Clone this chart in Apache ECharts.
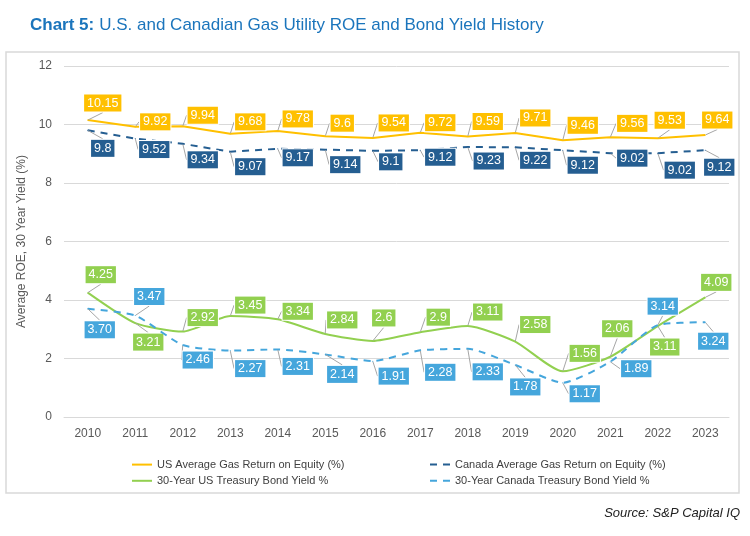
<!DOCTYPE html>
<html><head><meta charset="utf-8">
<script src="https://cdn.jsdelivr.net/npm/echarts@6/dist/echarts.min.js"></script>
<style>html,body{margin:0;padding:0;background:#fff}#c{width:750px;height:536px}</style>
</head><body><div id="c"></div>
<script>
const years = ['2010','2011','2012','2013','2014','2015','2016','2017','2018','2019','2020','2021','2022','2023'];
const usRoe = [10.15,9.92,9.94,9.68,9.78,9.6,9.54,9.72,9.59,9.71,9.46,9.56,9.53,9.64];
const caRoe = [9.8,9.52,9.34,9.07,9.17,9.14,9.1,9.12,9.23,9.22,9.12,9.02,9.02,9.12];
const usBond = [4.25,3.21,2.92,3.45,3.34,2.84,2.6,2.9,3.11,2.58,1.56,2.06,3.11,4.09];
const caBond = [3.70,3.47,2.46,2.27,2.31,2.14,1.91,2.28,2.33,1.78,1.17,1.89,3.14,3.24];
const seriesNames = ['US Average Gas Return on Equity (%)','Canada Average Gas Return on Equity (%)','30-Year US Treasury Bond Yield %','30-Year Canada Treasury Bond Yield %'];
const yTicks = {min:0,max:12,interval:2};

// label offsets (dx, dy) from each point, in pixels
const usRoeOff = [[15,-17],[20,-5],[20,-11],[20,-12],[20,-12],[17,-13],[21,-15],[20,-10],[20,-15],[20,-15],[20,-15],[22,-14],[12,-18],[12,-15]];
const caRoeOff = [[15,18],[19,11],[20,16],[20,15],[20,9],[20,15],[18,11],[20,7],[21,14],[20,13],[20,15],[22,5],[22,17],[14,17]];
const usBondOff = [[13,-18],[13,19],[20,-14],[20,-11],[20,-8],[17,-14],[11,-23],[18,-15],[20,-14],[20,-17],[22,-18],[7,-28],[7,21],[11,-15]];
const caBondOff = [[12,21],[14,-19],[15,15],[20,18],[20,17],[17,20],[21,15],[20,22],[20,23],[10,22],[22,11],[26,7],[5,-19],[8,19]];

const colors = ['#FFC000','#255E91','#92D050','#45A6DC'];
const offs = [usRoeOff, caRoeOff, usBondOff, caBondOff];
const datas = [usRoe, caRoe, usBond, caBond];
const dashes = ['solid',[7,6],'solid',[7,6]];
const fmt = [null,null,null,2];
const FF = 'Liberation Sans, Arial, sans-serif';

const chart = echarts.init(document.getElementById('c'), null, {renderer:'canvas'});
const series = datas.map((d,k)=>({
  name: seriesNames[k],
  type:'line',
  data:d,
  smooth: k>=2 ? 0.2 : false,
  symbol:'circle',
  symbolSize:1,
  showSymbol:true,
  z: 2+k,
  itemStyle:{color:colors[k]},
  lineStyle:{color:colors[k],width:2,type:dashes[k]},
  label:{
    show:true, position:'inside',
    formatter: p => fmt[k] ? p.value.toFixed(fmt[k]) : String(p.value),
    color:'#fff', fontSize:12.5, fontFamily:FF,
    backgroundColor:colors[k], borderColor:'#fff', borderWidth:1,
    padding:[2,3,1,3], lineHeight:14
  },
  labelLine:{show:true, lineStyle:{color:'#A6A6A6', width:1}},
  labelLayout: p => ({dx: offs[k][p.dataIndex][0], dy: offs[k][p.dataIndex][1]}),
  emphasis:{disabled:true}
}));

chart.setOption({
  animation:false,
  backgroundColor:'#fff',
  title:{
    text:'{b|Chart 5:} {n|U.S. and Canadian Gas Utility ROE and Bond Yield History}',
    left:25, top:11,
    textStyle:{rich:{
      b:{fontSize:17,fontWeight:'bold',color:'#1B75BC',fontFamily:FF},
      n:{fontSize:17,fontWeight:'normal',color:'#1B75BC',fontFamily:FF}
    }}
  },
  graphic:[
    {type:'rect', shape:{x:6,y:52,width:733,height:441}, style:{fill:'none',stroke:'#D9D9D9',lineWidth:1.5}, z:-1},
    {type:'text', right:10, top:507, style:{text:'Source: S&P Capital IQ', font:'italic 13px Liberation Sans, Arial, sans-serif', fill:'#222'}}
  ],
  grid:{left:64,right:21,top:66,bottom:119},
  legend:[
    {data:[seriesNames[0],seriesNames[2]], orient:'vertical', left:126, top:454, itemWidth:20, itemHeight:14, itemGap:5,
     itemStyle:{opacity:0}, textStyle:{fontSize:11,color:'#404040',fontFamily:FF}},
    {data:[seriesNames[1],seriesNames[3]], orient:'vertical', left:424, top:454, itemWidth:20, itemHeight:14, itemGap:5,
     itemStyle:{opacity:0}, textStyle:{fontSize:11,color:'#404040',fontFamily:FF}}
  ],
  xAxis:{
    type:'category', data:years, boundaryGap:true,
    axisLine:{show:true,lineStyle:{color:'#D9D9D9',width:1}},
    axisTick:{show:false},
    axisLabel:{color:'#595959',fontSize:12,margin:11,fontFamily:FF}
  },
  yAxis:{
    type:'value', min:yTicks.min, max:yTicks.max, interval:yTicks.interval,
    name:'Average ROE, 30 Year Yield (%)', nameLocation:'middle', nameGap:34,
    nameTextStyle:{color:'#595959',fontSize:12,fontFamily:FF},
    axisLine:{show:false}, axisTick:{show:false},
    splitLine:{lineStyle:{color:'#D9D9D9',width:1}},
    axisLabel:{color:'#595959',fontSize:12,margin:12,fontFamily:FF}
  },
  series:series
});
</script></body></html>
